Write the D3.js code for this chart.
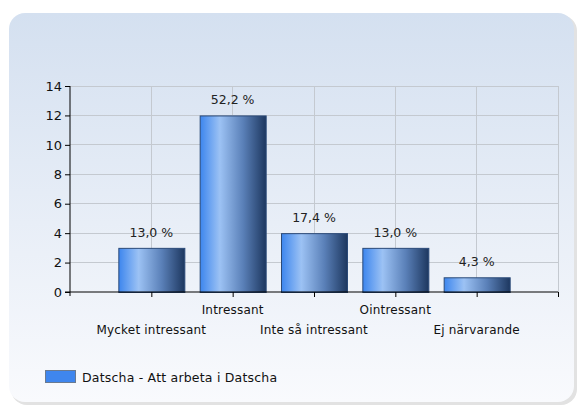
<!DOCTYPE html>
<html>
<head>
<meta charset="utf-8">
<script src="https://cdn.jsdelivr.net/npm/d3@7"></script>
<style>
  body { margin: 0; background: #fff; }
  svg { display: block; font-family: "DejaVu Sans", sans-serif; }
</style>
</head>
<body>
<svg id="chart" width="577" height="406"></svg>
<script>
const categories = ["Mycket intressant", "Intressant", "Inte så intressant", "Ointressant", "Ej närvarande"];
const counts = [3, 12, 4, 3, 1];
const percentLabels = ["13,0 %", "52,2 %", "17,4 %", "13,0 %", "4,3 %"];
const yTicks = [0, 2, 4, 6, 8, 10, 12, 14];
const seriesName = "Datscha - Att arbeta i Datscha";

const svg = d3.select("#chart");
const defs = svg.append("defs");

const bg = defs.append("linearGradient").attr("id", "bg")
  .attr("x1", 0).attr("y1", 0).attr("x2", 0).attr("y2", 1);
bg.append("stop").attr("offset", "0%").attr("stop-color", "#d4e0f0");
bg.append("stop").attr("offset", "100%").attr("stop-color", "#f9fafd");

const barGrad = defs.append("linearGradient").attr("id", "bar")
  .attr("x1", 0).attr("y1", 0).attr("x2", 1).attr("y2", 0);
barGrad.append("stop").attr("offset", "0%").attr("stop-color", "#3d86ee");
barGrad.append("stop").attr("offset", "30%").attr("stop-color", "#9cc2f4");
barGrad.append("stop").attr("offset", "65%").attr("stop-color", "#5a80b8");
barGrad.append("stop").attr("offset", "100%").attr("stop-color", "#1d375f");

// panel with soft shadow
svg.append("rect").attr("x", 11).attr("y", 15).attr("width", 566).attr("height", 390)
  .attr("rx", 16).attr("fill", "#e2e2e2");
svg.append("rect").attr("x", 9).attr("y", 13).attr("width", 565).attr("height", 389)
  .attr("rx", 16).attr("fill", "url(#bg)");

const plotL = 70, plotR = 558, plotT = 86, plotB = 292;

const x = d3.scaleLinear().domain([0, categories.length + 1]).range([plotL, plotR]);
const y = d3.scaleLinear().domain([0, 14]).range([plotB, plotT]);

const g = svg.append("g");

// grid
g.selectAll(".hgrid").data(yTicks.filter(d => d > 0)).enter().append("line")
  .attr("x1", plotL).attr("x2", plotR)
  .attr("y1", d => y(d)).attr("y2", d => y(d))
  .attr("stroke", "#c4c9d0").attr("stroke-width", 1).attr("shape-rendering", "crispEdges");
g.selectAll(".vgrid").data(d3.range(1, categories.length + 2)).enter().append("line")
  .attr("x1", d => x(d)).attr("x2", d => x(d))
  .attr("y1", plotT).attr("y2", plotB)
  .attr("stroke", "#c4c9d0").attr("stroke-width", 1).attr("shape-rendering", "crispEdges");

// bars
const barW = 66;
g.selectAll(".bar").data(counts).enter().append("rect")
  .attr("x", (d, i) => x(i + 1) - barW / 2 + 0.5)
  .attr("y", d => y(d) + 0.5)
  .attr("width", barW)
  .attr("height", d => y(0) - y(d))
  .attr("fill", "url(#bar)")
  .attr("stroke", "#2b4a78").attr("stroke-width", 1);

g.selectAll(".val").data(counts).enter().append("text")
  .attr("x", (d, i) => x(i + 1))
  .attr("y", d => y(d) - 11)
  .attr("text-anchor", "middle")
  .attr("font-size", 12.5)
  .attr("fill", "#222")
  .text((d, i) => percentLabels[i]);

// y axis
const yAxis = g.append("g").attr("transform", `translate(${plotL},0)`)
  .call(d3.axisLeft(y).tickValues(yTicks).tickSize(5).tickSizeOuter(0));
yAxis.select(".domain").attr("stroke", "#000").attr("d", `M0,${plotT}V${plotB + 4}`);
yAxis.selectAll("text").attr("font-size", 13).attr("fill", "#111").attr("font-family", "DejaVu Sans");

// x axis
const xAxis = g.append("g").attr("transform", `translate(0,${plotB})`)
  .call(d3.axisBottom(x).tickValues(d3.range(1, categories.length + 2)).tickSize(5).tickSizeOuter(0).tickFormat(""));
xAxis.select(".domain").attr("stroke", "#000").attr("d", `M${plotL - 5},0H${plotR}`);

g.selectAll(".cat").data(categories).enter().append("text")
  .attr("x", (d, i) => x(i + 1))
  .attr("y", (d, i) => i % 2 === 0 ? 334 : 314)
  .attr("text-anchor", "middle")
  .attr("font-size", 12)
  .attr("letter-spacing", 0.2)
  .attr("fill", "#111")
  .text(d => d);

// legend
const legend = svg.append("g").attr("transform", "translate(45,370)");
legend.append("rect").attr("x", 0.5).attr("y", 0.5).attr("width", 30).attr("height", 12)
  .attr("fill", "#3f86ee").attr("stroke", "#6a7a90");
legend.append("text").attr("x", 37).attr("y", 12).attr("font-size", 12.5).attr("fill", "#111")
  .attr("letter-spacing", 0.2)
  .text(seriesName);
</script>
</body>
</html>
